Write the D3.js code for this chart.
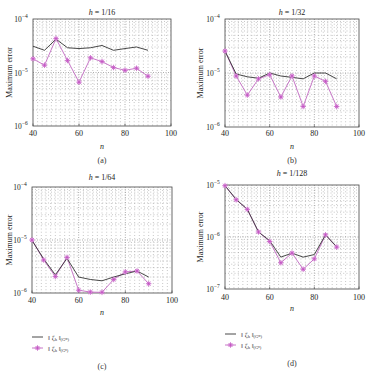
<!DOCTYPE html>
<html>
<head>
<meta charset="utf-8">
<script src="https://cdn.jsdelivr.net/npm/d3@7"></script>
<style>
  body { margin: 0; background: #fff; }
  svg { font-family: "Liberation Serif", "DejaVu Serif", serif; }
</style>
</head>
<body>
<svg id="chart" width="374" height="372"></svg>
<script>
// sample values n
var nVals = [40, 45, 50, 55, 60, 65, 70, 75, 80, 85, 90];
var xTicks = [40, 60, 80, 100];

// h = 1/16
var lineA = [3.1e-5, 2.6e-5, 4.2e-5, 2.9e-5, 2.8e-5, 2.9e-5, 3.2e-5, 2.6e-5, 2.8e-5, 3.0e-5, 2.6e-5];
var starA = [1.8e-5, 1.37e-5, 4.3e-5, 1.68e-5, 6.6e-6, 1.88e-5, 1.6e-5, 1.24e-5, 1.1e-5, 1.2e-5, 8.5e-6];
// h = 1/32
var lineB = [2.55e-5, 9.6e-6, 8.5e-6, 8.0e-6, 1.0e-5, 8.8e-6, 8.3e-6, 7.8e-6, 1.0e-5, 1.0e-5, 7.8e-6];
var starB = [2.55e-5, 8.8e-6, 3.9e-6, 7.8e-6, 9.3e-6, 3.6e-6, 8.8e-6, 2.4e-6, 8.8e-6, 7.0e-6, 2.4e-6];
// h = 1/64
var lineC = [9.8e-6, 4.4e-6, 2.2e-6, 4.5e-6, 2.0e-6, 1.8e-6, 1.7e-6, 2.0e-6, 2.3e-6, 2.6e-6, 2.0e-6];
var starC = [1.0e-5, 4.2e-6, 2.05e-6, 4.7e-6, 1.13e-6, 1.04e-6, 1.03e-6, 1.8e-6, 2.5e-6, 2.6e-6, 1.5e-6];
// h = 1/128
var lineD = [9.7e-6, 5.3e-6, 3.4e-6, 1.25e-6, 8.5e-7, 4.1e-7, 4.9e-7, 4.1e-7, 4.6e-7, 1.1e-6, 6.5e-7];
var starD = [9.7e-6, 5.2e-6, 3.4e-6, 1.25e-6, 8.2e-7, 3.2e-7, 4.9e-7, 2.4e-7, 3.8e-7, 1.1e-6, 6.4e-7];

var titles = ["1/16", "1/32", "1/64", "1/128"];
var captions = ["(a)", "(b)", "(c)", "(d)"];

// panel geometry
var panels = [
  {l: 33, r: 171, t: 19, b: 126, yd: [1e-6, 1e-4], tY: 15, xl: 136, nY: 149, capY: 163, yl: 9, line: lineA, star: starA},
  {l: 225, r: 359, t: 19, b: 127, yd: [1e-6, 1e-4], tY: 15, xl: 136, nY: 149, capY: 163, yl: 200, line: lineB, star: starB},
  {l: 32, r: 172, t: 187, b: 293, yd: [1e-6, 1e-4], tY: 180, xl: 303, nY: 315, capY: 369, yl: 9, line: lineC, star: starC, legY: 337},
  {l: 225, r: 359, t: 185, b: 289, yd: [1e-7, 1e-5], tY: 176, xl: 300, nY: 311, capY: 366, yl: 200, line: lineD, star: starD, legY: 334}
];

var svg = d3.select('#chart');
var gridCol = '#8a8a8a';
var lineCol = '#333';
var starCol = '#c050c0';
var starLine = '#c878c8';

function drawStar(g, x, y) {
  var s = g.append('g').attr('transform', 'translate(' + x + ',' + y + ')');
  s.append('circle').attr('r', 2).attr('fill', '#eab8ea');
  var r = 2.8, d = r * 0.707;
  s.append('path')
      .attr('d', 'M' + (-r) + ',0L' + r + ',0M0,' + (-r) + 'L0,' + r +
          'M' + (-d) + ',' + (-d) + 'L' + d + ',' + d + 'M' + (-d) + ',' + d + 'L' + d + ',' + (-d))
      .attr('stroke', starCol).attr('stroke-width', 0.7).attr('fill', 'none');
}

function sup(text, base, exp) {
  text.append('tspan').text(base);
  text.append('tspan').attr('font-size', 5.5).attr('dy', -4).text(exp);
}

panels.forEach(function(p, i) {
  var x = d3.scaleLinear().domain([40, 100]).range([p.l, p.r]);
  var y = d3.scaleLog().domain(p.yd).range([p.b, p.t]);
  var g = svg.append('g');

  // vertical grid every 2
  d3.range(42, 100, 2).forEach(function(v) {
    var major = (v % 20 === 0);
    g.append('line')
        .attr('x1', x(v)).attr('x2', x(v)).attr('y1', p.t).attr('y2', p.b)
        .attr('stroke', gridCol).attr('stroke-width', major ? 0.7 : 0.6)
        .attr('stroke-dasharray', major ? '1,1.5' : '0.8,2.4');
  });
  // horizontal grid on log ticks
  y.ticks().forEach(function(v) {
    var yy = y(v);
    if (yy <= p.t + 0.5 || yy >= p.b - 0.5) return;
    var mant = Math.round(v / Math.pow(10, Math.floor(Math.log10(v) + 1e-9)));
    var major = (mant === 1);
    g.append('line')
        .attr('x1', p.l).attr('x2', p.r).attr('y1', yy).attr('y2', yy)
        .attr('stroke', gridCol).attr('stroke-width', major ? 0.7 : 0.6)
        .attr('stroke-dasharray', major ? '1,1.5' : '0.8,2.4');
  });

  // frame
  g.append('rect').attr('x', p.l).attr('y', p.t).attr('width', p.r - p.l).attr('height', p.b - p.t)
      .attr('fill', 'none').attr('stroke', '#444').attr('stroke-width', 0.8);

  // x ticks
  xTicks.forEach(function(v) {
    g.append('line').attr('x1', x(v)).attr('x2', x(v)).attr('y1', p.b).attr('y2', p.b - 2.5)
        .attr('stroke', '#444').attr('stroke-width', 0.6);
    g.append('text').attr('x', x(v)).attr('y', p.xl).attr('text-anchor', 'middle')
        .attr('font-size', 8).attr('fill', '#222').text(v);
  });
  // y tick labels (decades)
  var lo = Math.round(Math.log10(p.yd[0])), hi = Math.round(Math.log10(p.yd[1]));
  d3.range(lo, hi + 1).forEach(function(e) {
    var t = g.append('text').attr('x', p.l - 12).attr('y', y(Math.pow(10, e)) + 3)
        .attr('text-anchor', 'middle').attr('font-size', 7.5).attr('fill', '#222');
    sup(t, '10', '\u2212' + (-e));
  });

  // title
  var tt = g.append('text').attr('x', (p.l + p.r) / 2).attr('y', p.tY).attr('text-anchor', 'middle')
      .attr('font-size', 8).attr('fill', '#222');
  tt.append('tspan').attr('font-style', 'italic').text('h');
  tt.append('tspan').text(' = ' + titles[i]);

  // axis labels
  g.append('text').attr('x', (p.l + p.r) / 2).attr('y', p.nY).attr('text-anchor', 'middle')
      .attr('font-size', 8).attr('font-style', 'italic').attr('fill', '#222').text('n');
  g.append('text').attr('transform', 'translate(' + p.yl + ',' + ((p.t + p.b) / 2) + ') rotate(-90)')
      .attr('text-anchor', 'middle').attr('dy', 3).attr('font-size', 8).attr('fill', '#222')
      .text('Maximum error');
  g.append('text').attr('x', (p.l + p.r) / 2).attr('y', p.capY).attr('text-anchor', 'middle')
      .attr('font-size', 8).attr('fill', '#333').text(captions[i]);

  // series
  var ln = d3.line().x(function(d, k) { return x(nVals[k]); }).y(function(d) { return y(d); });
  g.append('path').datum(p.star).attr('d', ln).attr('fill', 'none')
      .attr('stroke', starLine).attr('stroke-width', 1);
  g.append('path').datum(p.line).attr('d', ln).attr('fill', 'none')
      .attr('stroke', lineCol).attr('stroke-width', 0.9);
  p.star.forEach(function(v, k) { drawStar(g, x(nVals[k]), y(v)); });

  // legend
  if (p.legY) {
    var lx = p.l;
    g.append('line').attr('x1', lx).attr('x2', lx + 11).attr('y1', p.legY).attr('y2', p.legY)
        .attr('stroke', lineCol).attr('stroke-width', 0.9);
    g.append('line').attr('x1', lx).attr('x2', lx + 11).attr('y1', p.legY + 11).attr('y2', p.legY + 11)
        .attr('stroke', starLine).attr('stroke-width', 1);
    drawStar(g, lx + 5.5, p.legY + 11);
    ['(G\u1d50)', '(G\u207f)'].forEach(function(sub, k) {
      var t = g.append('text').attr('x', lx + 16).attr('y', p.legY + 11 * k + 2.5)
          .attr('font-size', 7).attr('fill', '#333');
      t.append('tspan').text('\u2016 \u03b6');
      t.append('tspan').attr('font-size', 4.5).attr('dy', 1.5).text('h');
      t.append('tspan').attr('dy', -1.5).text(' \u2016');
      t.append('tspan').attr('font-size', 4.5).attr('dy', 1.5).text(sub);
    });
  }
});
</script>
</body>
</html>
